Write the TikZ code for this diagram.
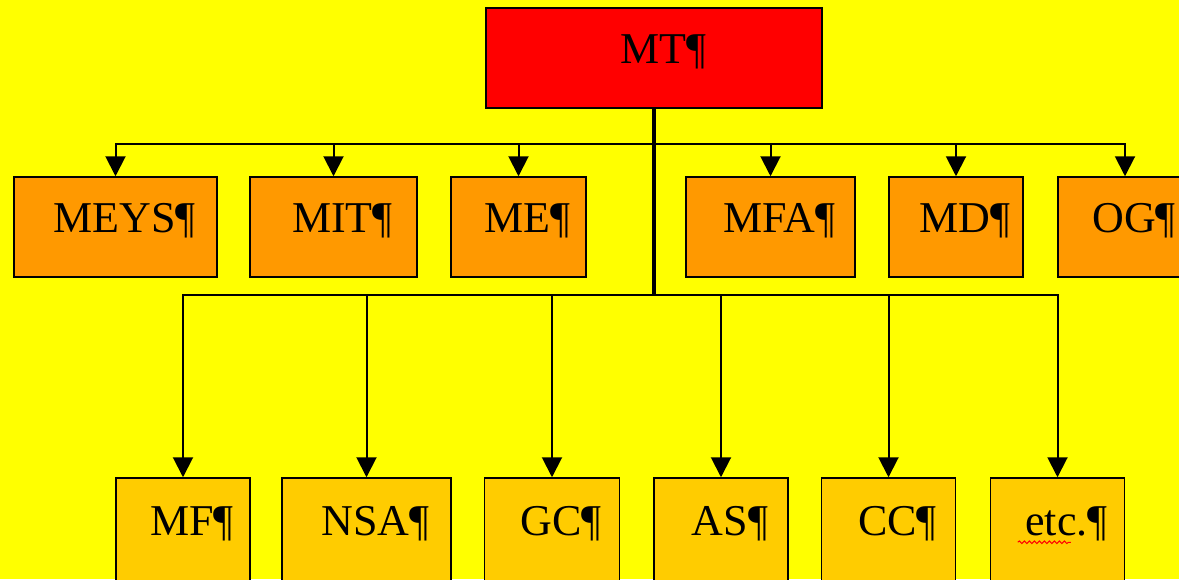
\documentclass[tikz,border=0pt]{standalone}
\usepackage{fontspec}
\setmainfont{Liberation Serif}
\usetikzlibrary{arrows.meta,decorations.pathmorphing}
\definecolor{bgyellow}{HTML}{FFFF00}
\definecolor{midorange}{HTML}{FF9900}
\definecolor{lowgold}{HTML}{FFCC00}
\tikzset{
 unitbox/.style={draw,line width=1.5pt,minimum height=100pt,inner sep=0pt,text height=30pt,text depth=20pt,font=\fontsize{44}{50}\selectfont,execute at begin node=\hspace{18pt}},
 link/.style={line width=2pt,-{Triangle[width=20pt,length=20pt]}}
}
\begin{document}
\begin{tikzpicture}[x=1pt,y=-1pt]
\fill[bgyellow](0,0)rectangle(1179,579);
\useasboundingbox(0,0)rectangle(1179,579);
\node[unitbox,fill=red,minimum width=336pt](mt)at(654,58){MT¶};
\coordinate(top)at(654,144);
\coordinate(low)at(654,295);
\draw[line width=4pt](mt.south)--(low);
% middle row
\foreach \k/\x/\w/\s in {meys/115.5/203/MEYS,mit/333.5/167/MIT,me/518.5/135/ME,mfa/770.5/169/MFA,md/956/134/MD,og/1125/134/OG}{\node[unitbox,fill=midorange,minimum width=\w pt](\k)at(\x,227){\s¶}; \draw[link](top)-|(\k.north);}
% bottom row
\foreach \k/\x/\w/\s in {mf/183/134/MF,nsa/366.5/169/NSA,gc/552/135/GC,as/721/134/AS,cc/888.5/134/CC,etc/1057.5/134/etc.}{\node[unitbox,fill=lowgold,minimum width=\w pt,minimum height=104pt](\k)at(\x,530){\s¶}; \draw[link](low)-|(\k.north);}
\draw[red,line width=1pt,decorate,decoration={snake,amplitude=1.3pt,segment length=5pt}]([xshift=28pt,yshift=-65pt]etc.north west)--++(53,0);
\end{tikzpicture}
\end{document}
